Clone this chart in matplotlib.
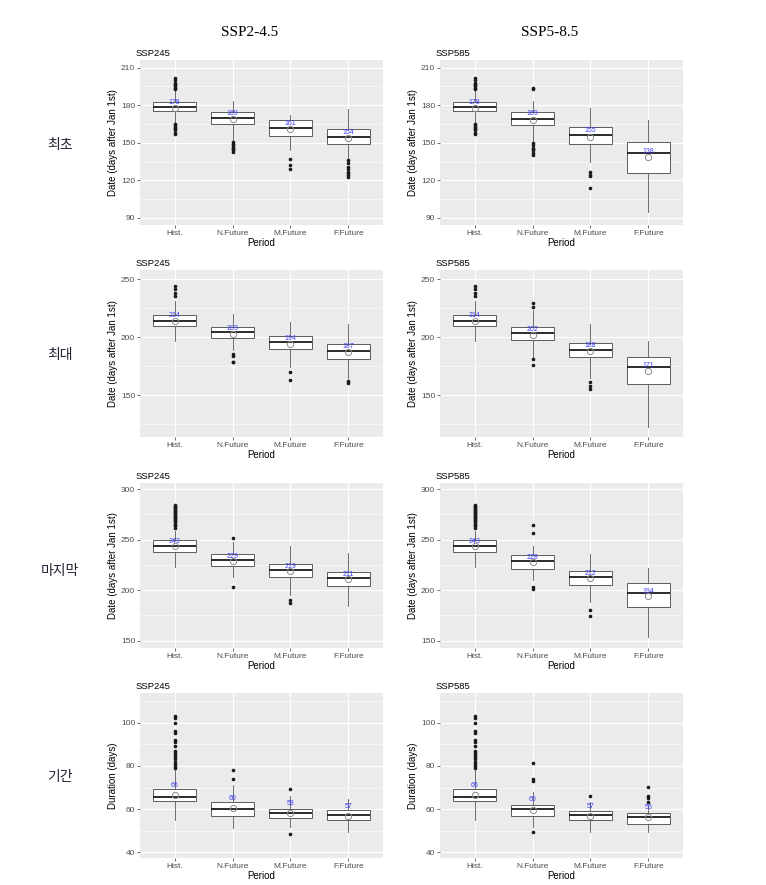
import numpy as np
import matplotlib
matplotlib.use('Agg')
import matplotlib.pyplot as plt

periods = ['Hist.', 'N.Future', 'M.Future', 'F.Future']
scenarios = ['SSP245', 'SSP585']
col_heads = ['SSP2-4.5', 'SSP5-8.5']
row_names = ['최초', '최대', '마지막', '기간']

# five-number summaries per period: whisker low, q1, median, q3, whisker high
# --- first date
first_hist = [166, 175.5, 178.5, 182.5, 192]
first_hist_out = [193, 194, 195, 196, 197, 198, 200, 202, 165, 164, 163, 162, 161, 160, 158, 157]
first_245 = [first_hist, [152, 164.9, 170.2, 174.4, 183], [144, 155.8, 162.2, 168, 172.5], [138, 149, 155, 160.9, 176.8]]
first_245_mean = [178, 168.8, 161, 154]
first_245_out = [first_hist_out, [151, 149, 148, 147, 146, 145, 144, 143], [137, 132, 129], [136, 134, 131, 129, 127, 126, 124, 123]]
first_585 = [first_hist, [151, 164.1, 168.8, 174.4, 183], [135, 149.2, 156.6, 162.5, 177.6], [94.5, 125.8, 141.8, 150.3, 168.3]]
first_585_mean = [178, 168.6, 155, 138.4]
first_585_out = [first_hist_out, [194, 193, 150, 148, 146, 145, 144, 142, 140.4], [126.4, 124.5, 123.2, 113.9], []]

# --- maximum date
max_hist = [196.5, 209.2, 213.5, 218.7, 231]
max_hist_out = [244, 241, 238, 235.6]
max_245 = [max_hist, [188.8, 198.8, 204.3, 208.3, 219.5], [174.4, 189.4, 195.4, 201.1, 213.2], [165, 181.3, 188.2, 194.2, 210.9]]
max_245_mean = [214, 203, 194, 187.3]
max_245_out = [max_hist_out, [185, 183.3, 178.7, 178.2], [169.8, 162.6], [162, 160]]
max_585 = [max_hist, [181.6, 197.4, 203.4, 208.3, 223.3], [164.4, 182.5, 189.1, 195.1, 210.9], [122.7, 159.5, 174.4, 183, 196.5]]
max_585_mean = [214, 202, 188, 171]
max_585_out = [max_hist_out, [229.6, 226.1, 181, 175.6], [160.9, 157.8, 154.9], []]

# --- last date
last_hist = [222.7, 238.2, 243.5, 249.8, 259]
last_hist_out = [261, 263, 264, 265, 267, 268, 269, 270, 271, 272, 273, 274, 275, 276, 277, 278, 279, 280, 281, 282, 283, 284]
last_245 = [last_hist, [213.4, 224.3, 230.3, 235.6, 248.1], [195.3, 212.8, 220, 226, 243.2], [184.4, 204.2, 211.8, 218.1, 236.6]]
last_245_mean = [243.4, 229, 219, 211]
last_245_out = [last_hist_out, [251.8, 202.9], [190.3, 187], []]
last_585 = [last_hist, [210, 221.4, 229, 235.2, 243.2], [188.7, 205.2, 213.1, 218.7, 235.6], [153.3, 183, 196.9, 206.8, 221.7]]
last_585_mean = [243.4, 228, 212, 194.3]
last_585_out = [last_hist_out, [264, 256.4, 202.9, 201], [180.4, 174.4], []]

# --- duration
dur_hist = [55, 63.8, 65.5, 69.3, 78]
dur_hist_out = [79, 80, 81, 82, 83, 84, 85, 86, 87, 89, 91, 92, 95, 96, 100, 102, 103]
dur_245 = [dur_hist, [51.5, 57, 60.1, 63.5, 71], [51.7, 56, 58.3, 60.2, 66.3], [49.5, 55.1, 57.1, 59.4, 64.8]]
dur_245_mean = [66.4, 60.3, 58.2, 56.8]
dur_245_out = [dur_hist_out, [74, 78.2], [69.1, 48.3], []]
dur_585 = [dur_hist, [51.7, 57, 60.1, 62, 68], [49.5, 55.1, 57.1, 59.1, 63.2], [49.5, 53.3, 56.3, 58.2, 62.1]]
dur_585_mean = [66.4, 59.7, 56.8, 56.2]
dur_585_out = [dur_hist_out, [81.5, 74, 73, 49.3], [66], [70.1, 66.3, 65.2, 63.5]]

panels = [
    [(first_245, first_245_mean, first_245_out), (first_585, first_585_mean, first_585_out)],
    [(max_245, max_245_mean, max_245_out), (max_585, max_585_mean, max_585_out)],
    [(last_245, last_245_mean, last_245_out), (last_585, last_585_mean, last_585_out)],
    [(dur_245, dur_245_mean, dur_245_out), (dur_585, dur_585_mean, dur_585_out)],
]
ylims = [(84.4, 216.1), (113.8, 257.8), (142.8, 306), (37.4, 113.7)]
majors = [[90, 120, 150, 180, 210], [150, 200, 250], [150, 200, 250, 300], [40, 60, 80, 100]]
minors = [[105, 135, 165, 195], [125, 175, 225], [175, 225, 275], [50, 70, 90, 110]]
ylabels = ['Date (days after Jan 1st)'] * 3 + ['Duration (days)']
label_offset = [4.5, 4.5, 4.5, 4.6]

W, H = 766, 885
fig = plt.figure(figsize=(W / 100, H / 100), dpi=100)
sans = 'Liberation Sans'

col_x = [140, 440]
row_y = [(60, 225), (270, 437), (483, 648), (693, 858)]
pw = 243

for r in range(4):
    for c in range(2):
        stats, means, outs = panels[r][c]
        top, bot = row_y[r]
        ax = fig.add_axes([col_x[c] / W, 1 - bot / H, pw / W, (bot - top) / H])
        bx = []
        for s, m, o in zip(stats, means, outs):
            bx.append(dict(whislo=s[0], q1=s[1], med=s[2], q3=s[3], whishi=s[4],
                           mean=m, fliers=o))
        ax.bxp(bx, positions=[1, 2, 3, 4], widths=0.75, patch_artist=True,
               showmeans=True, showcaps=False,
               boxprops=dict(facecolor='white', edgecolor='#444444', lw=0.6),
               medianprops=dict(color='#1a1a1a', lw=1.3),
               whiskerprops=dict(color='#555555', lw=0.6),
               flierprops=dict(marker='o', markerfacecolor='#1a1a1a',
                               markeredgecolor='none', markersize=2.6),
               meanprops=dict(marker='o', markerfacecolor='none',
                              markeredgecolor='#8a8a8a', markersize=4.5,
                              markeredgewidth=0.7))
        for i, m in enumerate(means):
            ax.text(i + 1, m + label_offset[r], str(int(round(m))), color='#3b3bff',
                    fontsize=5, ha='center', va='center', family=sans)
        ax.set_xlim(0.4, 4.6)
        ax.set_ylim(*ylims[r])
        ax.set_yticks(majors[r])
        ax.set_yticks(minors[r], minor=True)
        ax.set_xticks([1, 2, 3, 4])
        ax.set_xticklabels(periods)
        ax.set_facecolor('#EBEBEB')
        ax.grid(which='major', color='white', lw=0.8)
        ax.grid(which='minor', axis='y', color='white', lw=0.4)
        ax.set_axisbelow(True)
        for sp in ax.spines.values():
            sp.set_visible(False)
        ax.tick_params(which='major', length=2, width=0.5, color='#333333',
                       labelsize=6, labelcolor='#4D4D4D', pad=1.5)
        ax.tick_params(which='minor', length=0)
        for lab in ax.get_xticklabels() + ax.get_yticklabels():
            lab.set_family(sans)
        ax.set_xlabel('Period', fontsize=7, family=sans, labelpad=1)
        ax.set_ylabel(ylabels[r], fontsize=7, family=sans, labelpad=2)
        ax.set_title(scenarios[c], loc='left', x=-0.02, pad=3, fontsize=6.8, family=sans)

for c in range(2):
    fig.text((col_x[c] + 110) / W, 1 - 32 / H, col_heads[c], fontsize=11,
             family='Liberation Serif', ha='center', va='center')

row_label_y = [145, 355, 571, 777]
for r in range(4):
    fig.text(60 / W, 1 - row_label_y[r] / H, row_names[r], fontsize=10,
             family=['Noto Sans CJK KR', 'DejaVu Sans'], color='#222233',
             ha='center', va='center')

fig.savefig('out.png', dpi=100, facecolor='white')
